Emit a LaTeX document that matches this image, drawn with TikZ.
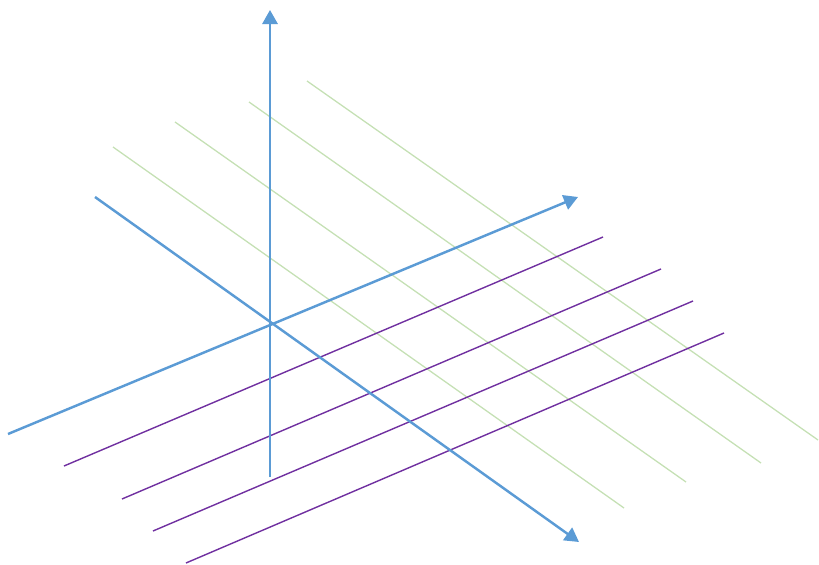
\documentclass[tikz,border=0pt]{standalone}
\usetikzlibrary{arrows.meta}

\definecolor{axisblue}{HTML}{5B9BD5}
\definecolor{gridgreen}{HTML}{C5E0B4}
\definecolor{gridpurple}{HTML}{7030A0}

\begin{document}
\begin{tikzpicture}[x=0.03cm,y=-0.03cm,
  axis/.style={axisblue, line width=2.1pt},
  axisarrow/.style={axis, -{Triangle[length=12pt,width=13pt]}},
  greenline/.style={gridgreen, line width=1.1pt},
  purpleline/.style={gridpurple, line width=1.2pt}]

  \useasboundingbox (0,0) rectangle (819,565);

  % green lines
  \draw[greenline] (113,147) -- (624,508);
  \draw[greenline] (175,122) -- (686,482);
  \draw[greenline] (249,102) -- (761,463);
  \draw[greenline] (307,81) -- (818,440);

  % purple lines
  \draw[purpleline] (64,466) -- (603,237);
  \draw[purpleline] (122,499) -- (661,269);
  \draw[purpleline] (153,531) -- (693,301);
  \draw[purpleline] (186,563) -- (724,333);

  % axes
  \draw[axisarrow] (270,477) -- (270,10);
  \draw[axisarrow] (8,434) -- (578,197);
  \draw[axisarrow] (95,197) -- (579,542);
\end{tikzpicture}
\end{document}
